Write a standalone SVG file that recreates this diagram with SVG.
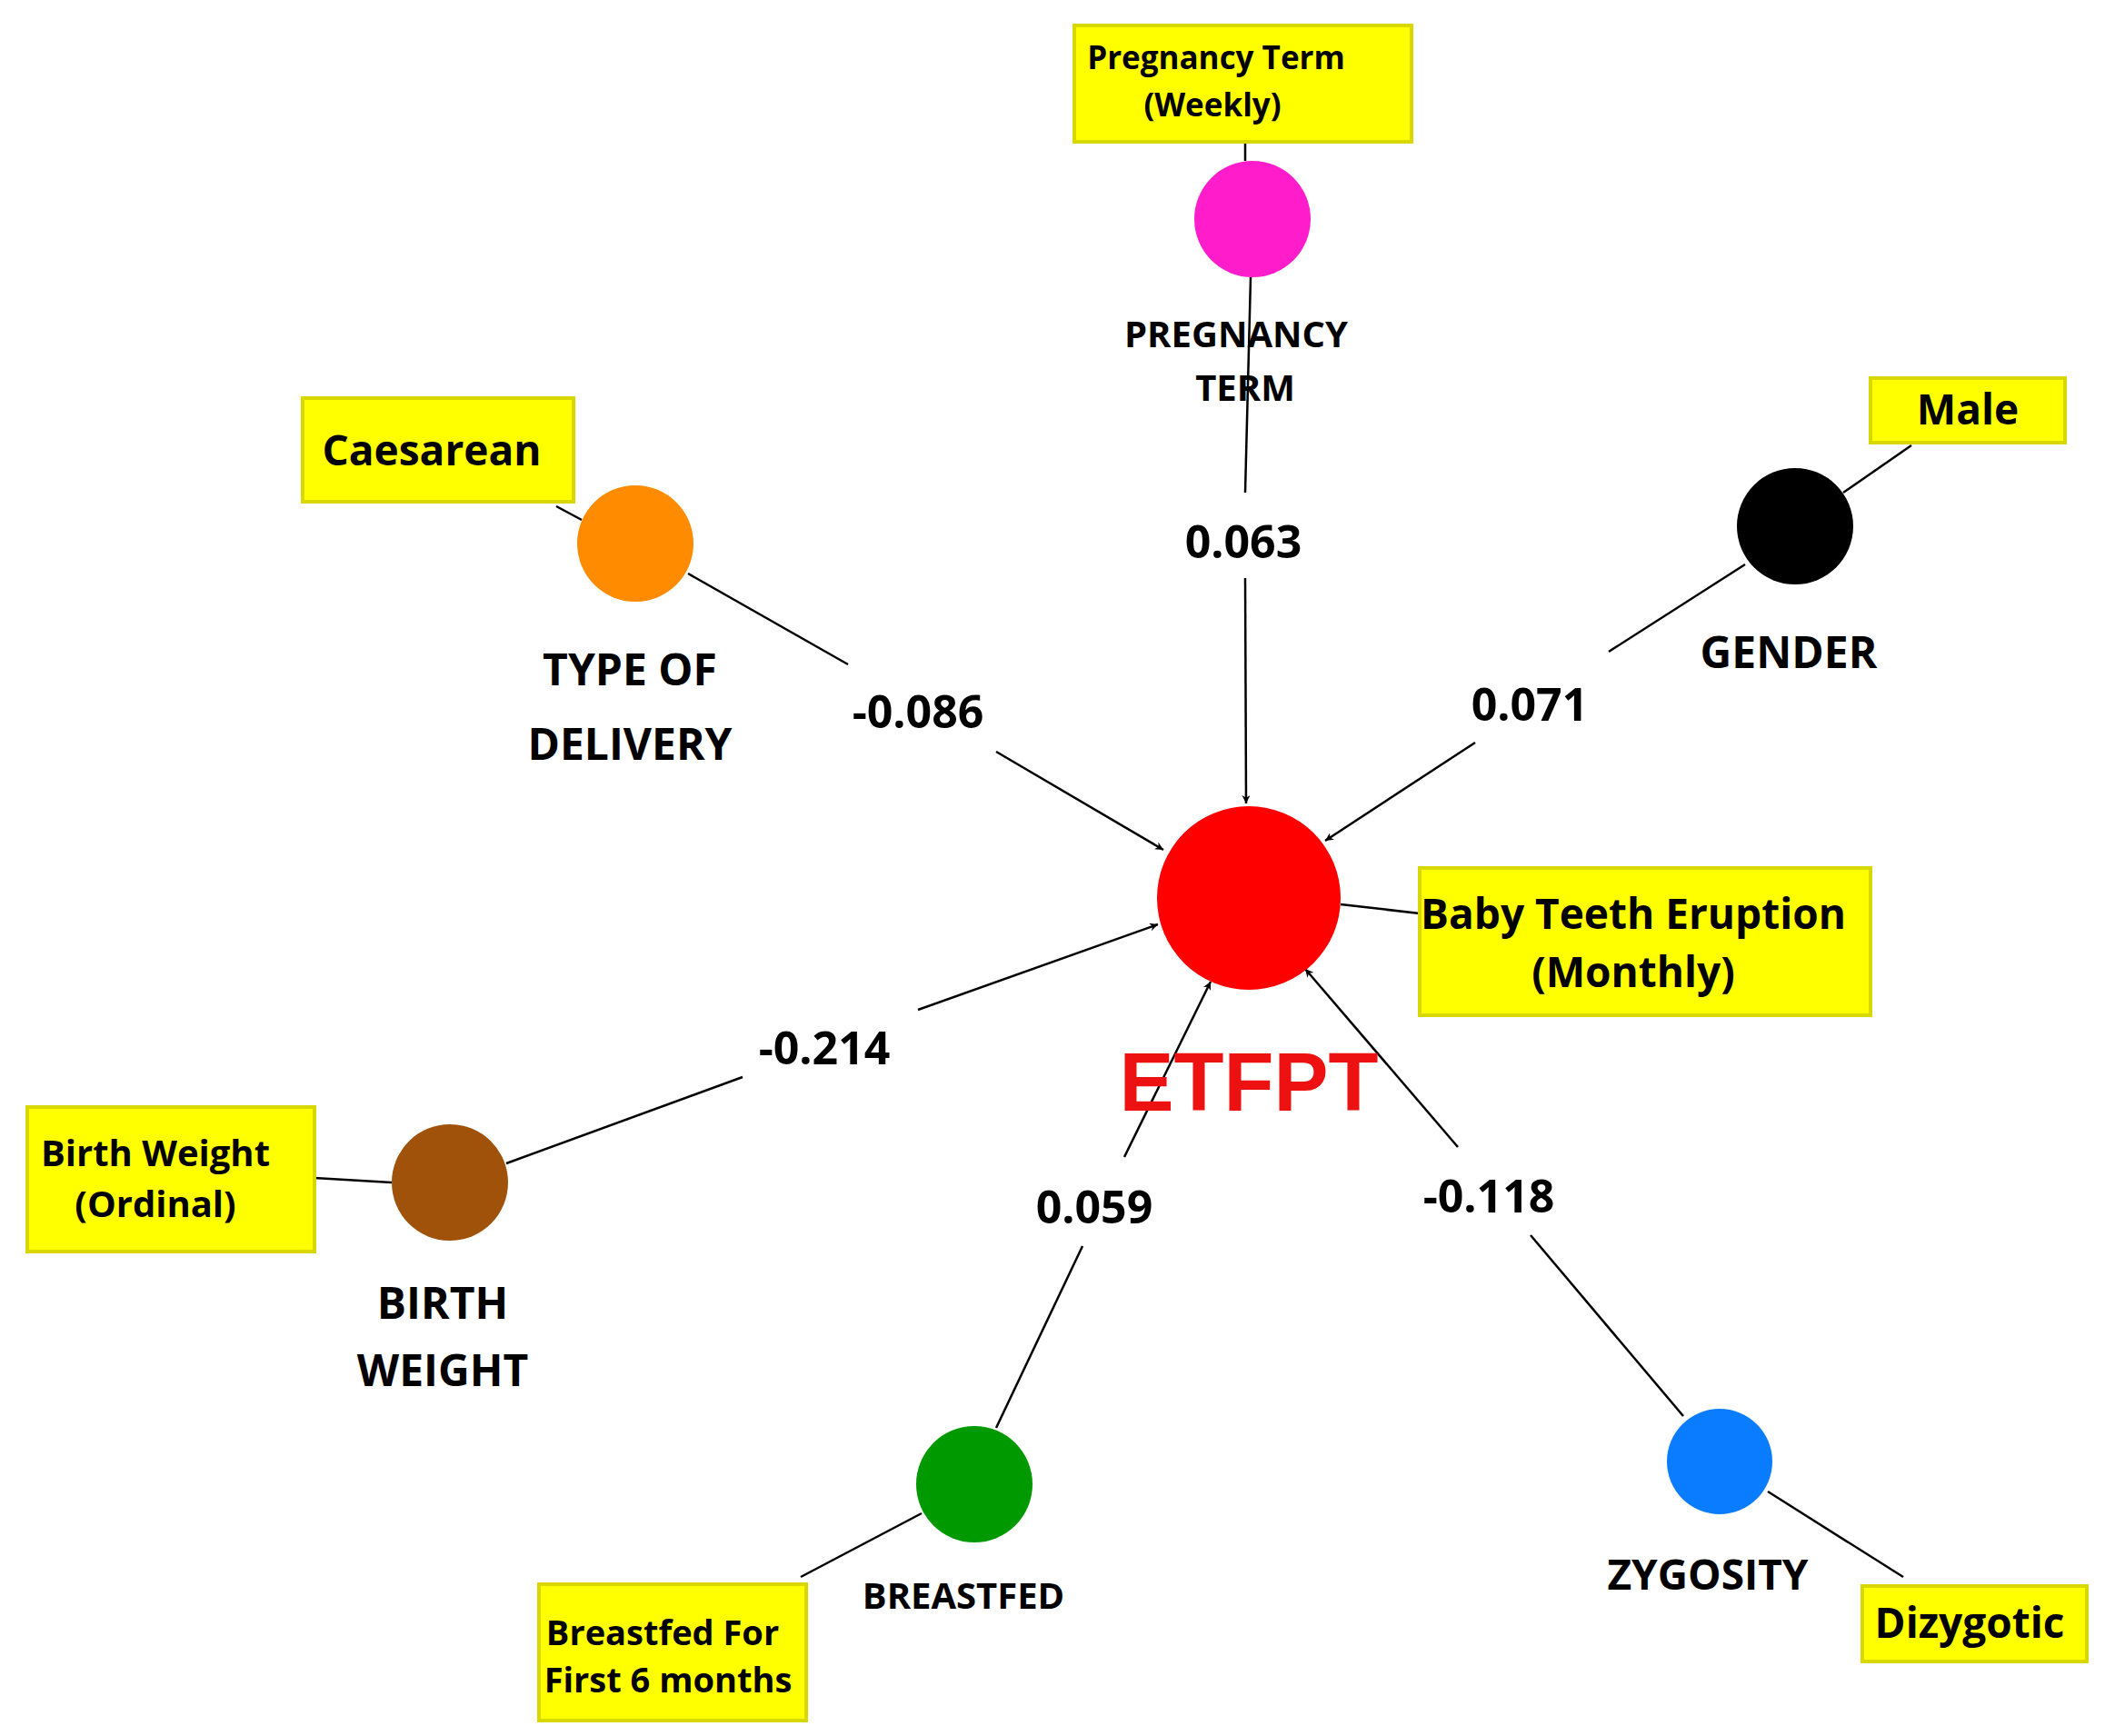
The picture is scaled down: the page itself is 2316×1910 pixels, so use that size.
<svg xmlns="http://www.w3.org/2000/svg" width="2316" height="1910" viewBox="0 0 2316 1910">
<style>
.box{fill:#ffff00;stroke:#d8d800;stroke-width:4}
.t{font-family:"Open Sans","Liberation Sans",sans-serif;font-weight:bold;fill:#000;text-anchor:middle}
.ln{stroke:#000;stroke-width:2.5;fill:none}
</style>
<defs>
<marker id="ar" viewBox="0 0 10 10" refX="10" refY="5" markerWidth="9" markerHeight="9" markerUnits="userSpaceOnUse" orient="auto"><path d="M0,0 L10,5 L0,10 L3,5 z" fill="#000"/></marker>
</defs>
<rect width="2316" height="1910" fill="#fff"/>
<g id="connectors">
<line class="ln" x1="1370" y1="156" x2="1370" y2="177"/>
<line class="ln" x1="1376" y1="305" x2="1370" y2="542"/>
<line class="ln" x1="1370" y1="636" x2="1371" y2="884" marker-end="url(#ar)" style="marker-end:url(#ar)" />
<line class="ln" x1="612" y1="557" x2="640" y2="572"/>
<line class="ln" x1="757" y1="631" x2="933" y2="731"/>
<line class="ln" x1="1096" y1="827" x2="1280" y2="935" marker-end="url(#ar)"/>
<line class="ln" x1="2103" y1="490" x2="2028" y2="542"/>
<line class="ln" x1="1920" y1="621" x2="1770" y2="717"/>
<line class="ln" x1="1623" y1="817" x2="1458" y2="925" marker-end="url(#ar)"/>
<line class="ln" x1="1475" y1="995" x2="1562" y2="1005"/>
<line class="ln" x1="346" y1="1296" x2="431" y2="1301"/>
<line class="ln" x1="557" y1="1280" x2="817" y2="1185"/>
<line class="ln" x1="1010" y1="1111" x2="1274" y2="1017" marker-end="url(#ar)"/>
<line class="ln" x1="1014" y1="1665" x2="881" y2="1735"/>
<line class="ln" x1="1096" y1="1571" x2="1191" y2="1371"/>
<line class="ln" x1="1237" y1="1273" x2="1332" y2="1080" marker-end="url(#ar)"/>
<line class="ln" x1="1945" y1="1641" x2="2094" y2="1735"/>
<line class="ln" x1="1852" y1="1558" x2="1684" y2="1359"/>
<line class="ln" x1="1604" y1="1262" x2="1436" y2="1066" marker-end="url(#ar)"/>
</g>
<g id="labels" class="t" font-size="50">
<text class="t" x="1368" y="614" font-size="50">0.063</text>
<text class="t" x="1010" y="801" font-size="50">-0.086</text>
<text class="t" x="1683" y="793" font-size="50">0.071</text>
<text class="t" x="907" y="1171" font-size="50">-0.214</text>
<text class="t" x="1204" y="1346" font-size="50">0.059</text>
<text class="t" x="1638" y="1334" font-size="50">-0.118</text>
</g>
<g id="etfpt">
<circle cx="1374" cy="988" r="101" fill="#ff0000"/>
<text x="1374" y="1222" font-family="Liberation Sans,Arial,sans-serif" font-weight="bold" font-size="90" fill="#ee1111" text-anchor="middle">ETFPT</text>
</g>
<g id="baby">
<rect class="box" x="1562" y="955" width="496" height="162"/>
<text class="t" x="1797" y="1022" font-size="46">Baby Teeth Eruption</text>
<text class="t" x="1797" y="1086" font-size="46">(Monthly)</text>
</g>
<g id="pregnancy">
<rect class="box" x="1182" y="28" width="371" height="128"/>
<text class="t" x="1338" y="76" font-size="35">Pregnancy Term</text>
<text class="t" x="1334" y="128" font-size="35">(Weekly)</text>
<circle cx="1378" cy="241" r="64" fill="#ff1dcb"/>
<text class="t" x="1360" y="382" font-size="40">PREGNANCY</text>
<text class="t" x="1370" y="441" font-size="40">TERM</text>
</g>
<g id="delivery">
<rect class="box" x="333" y="438" width="298" height="114"/>
<text class="t" x="475" y="512" font-size="46">Caesarean</text>
<circle cx="699" cy="598" r="64" fill="#ff8c00"/>
<text class="t" x="693" y="754" font-size="48">TYPE OF</text>
<text class="t" x="693" y="836" font-size="48">DELIVERY</text>
</g>
<g id="gender">
<rect class="box" x="2058" y="416" width="214" height="71"/>
<text class="t" x="2165" y="467" font-size="46">Male</text>
<circle cx="1975" cy="579" r="64" fill="#000"/>
<text class="t" x="1968" y="735" font-size="48">GENDER</text>
</g>
<g id="birthweight">
<rect class="box" x="30" y="1218" width="316" height="159"/>
<text class="t" x="171" y="1283" font-size="40">Birth Weight</text>
<text class="t" x="171" y="1339" font-size="40">(Ordinal)</text>
<circle cx="495" cy="1301" r="64" fill="#a0520a"/>
<text class="t" x="487" y="1451" font-size="48">BIRTH</text>
<text class="t" x="487" y="1525" font-size="48">WEIGHT</text>
</g>
<g id="breastfed">
<rect class="box" x="593" y="1743" width="294" height="150"/>
<text class="t" x="729" y="1810" font-size="38">Breastfed For</text>
<text class="t" x="735" y="1862" font-size="38">First 6 months</text>
<circle cx="1072" cy="1633" r="64" fill="#009a00"/>
<text class="t" x="1060" y="1770" font-size="40">BREASTFED</text>
</g>
<g id="zygosity">
<rect class="box" x="2049" y="1745" width="247" height="83"/>
<text class="t" x="2167" y="1802" font-size="46">Dizygotic</text>
<circle cx="1892" cy="1608" r="58" fill="#0a7cff"/>
<text class="t" x="1879" y="1749" font-size="46">ZYGOSITY</text>
</g>
</svg>
